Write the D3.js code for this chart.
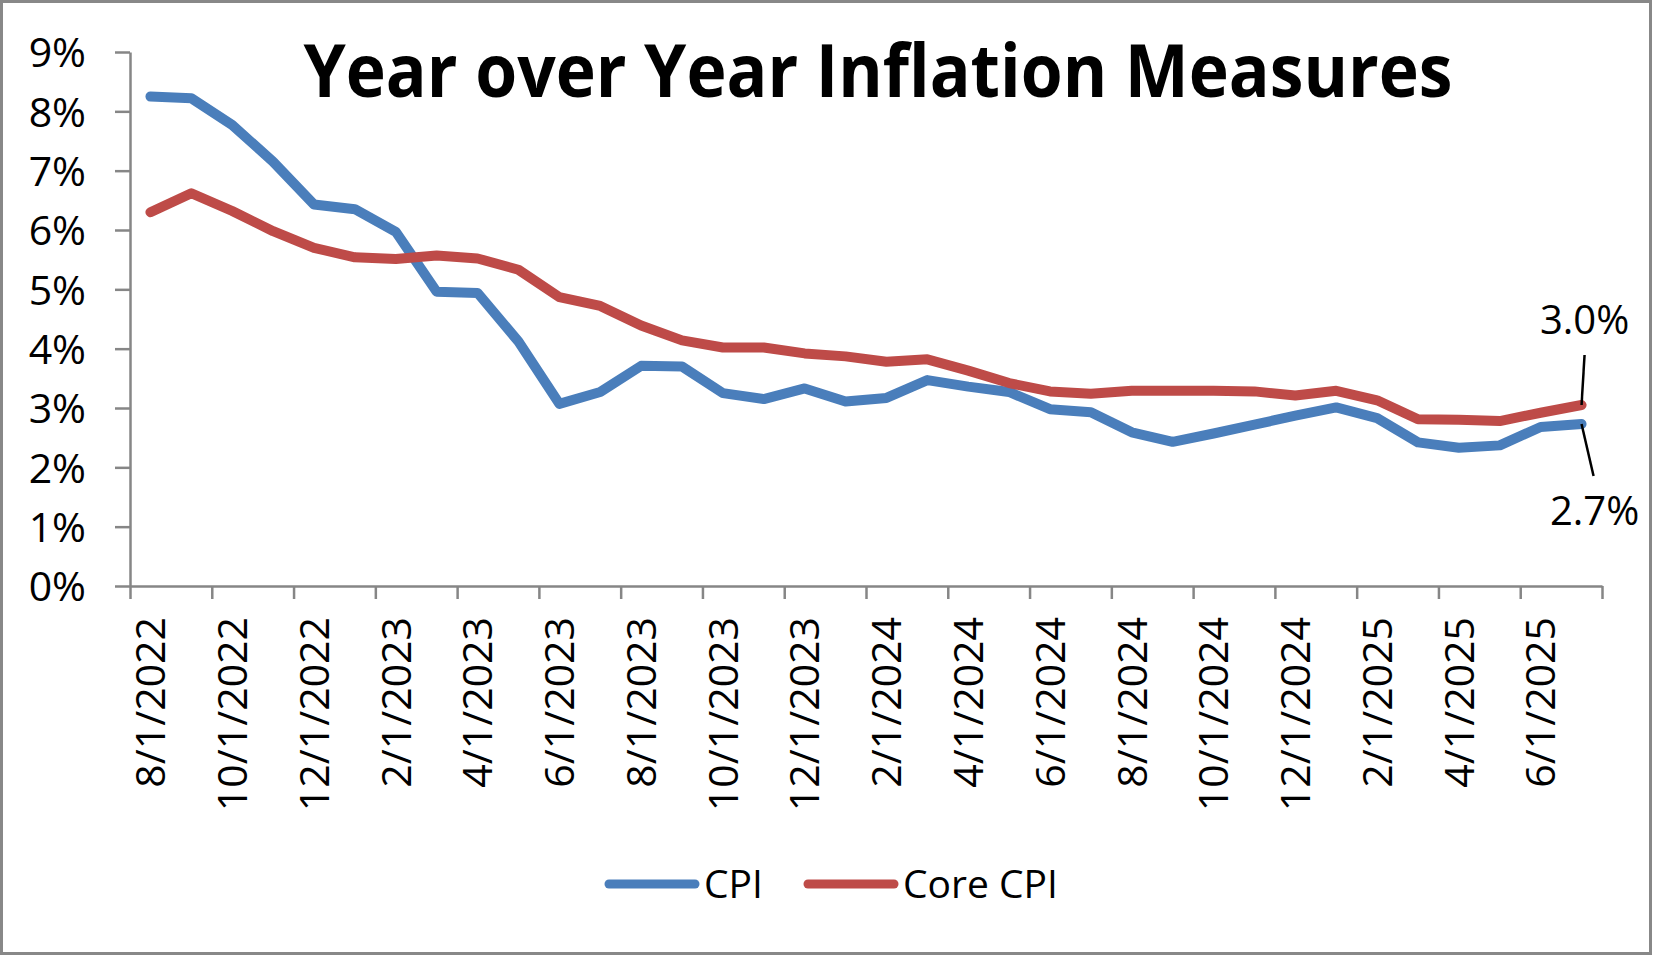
<!DOCTYPE html>
<html>
<head>
<meta charset="utf-8">
<script src="https://cdn.jsdelivr.net/npm/d3@7"></script>
<style>
    body { margin: 0; background: #fff; }
    text { font-family: "Open Sans", "Noto Sans", sans-serif; fill: #000; }
</style>
</head>
<body>
<div id="canvas"></div>
<script>
// datos (% interanual)
var fechas = [
    "8/1/2022", "9/1/2022", "10/1/2022", "11/1/2022", "12/1/2022",
    "1/1/2023", "2/1/2023", "3/1/2023", "4/1/2023", "5/1/2023", "6/1/2023", "7/1/2023",
    "8/1/2023", "9/1/2023", "10/1/2023", "11/1/2023", "12/1/2023",
    "1/1/2024", "2/1/2024", "3/1/2024", "4/1/2024", "5/1/2024", "6/1/2024", "7/1/2024",
    "8/1/2024", "9/1/2024", "10/1/2024", "11/1/2024", "12/1/2024",
    "1/1/2025", "2/1/2025", "3/1/2025", "4/1/2025", "5/1/2025", "6/1/2025", "7/1/2025"
];

var cpi = [8.25, 8.22, 7.77, 7.15, 6.43, 6.35, 5.97, 4.96, 4.94, 4.12, 3.07, 3.27,
    3.71, 3.70, 3.25, 3.15, 3.33, 3.11, 3.17, 3.47, 3.36, 3.27, 2.98, 2.93,
    2.59, 2.43, 2.57, 2.72, 2.87, 3.01, 2.83, 2.42, 2.33, 2.37, 2.68, 2.73];

var coreCpi = [6.30, 6.62, 6.32, 5.98, 5.70, 5.54, 5.51, 5.57, 5.52, 5.33, 4.87, 4.72,
    4.39, 4.14, 4.02, 4.02, 3.92, 3.87, 3.78, 3.82, 3.63, 3.42, 3.28, 3.24,
    3.29, 3.29, 3.29, 3.28, 3.21, 3.29, 3.13, 2.81, 2.80, 2.78, 2.92, 3.05];

var etiquetasX = ["8/1/2022", "10/1/2022", "12/1/2022", "2/1/2023", "4/1/2023", "6/1/2023",
    "8/1/2023", "10/1/2023", "12/1/2023", "2/1/2024", "4/1/2024", "6/1/2024",
    "8/1/2024", "10/1/2024", "12/1/2024", "2/1/2025", "4/1/2025", "6/1/2025"];

var ticksY = [0, 1, 2, 3, 4, 5, 6, 7, 8, 9];

var series = [
    { nombre: "CPI", valores: cpi, color: "#4a7ebb", final: "2.7%" },
    { nombre: "Core CPI", valores: coreCpi, color: "#be4b48", final: "3.0%" }
];

var titulo = "Year over Year Inflation Measures";

var width = 1654;
var height = 955;
var margin = {top: 52, right: 52, bottom: 369, left: 130};
var innerW = 1602 - margin.left;
var innerH = 586 - margin.top;
var gris = "#868686";

var svg = d3.select("#canvas").append("svg")
    .attr("width", width)
    .attr("height", height);

svg.append("rect")
    .attr("x", 1.5).attr("y", 1.5)
    .attr("width", width - 5).attr("height", height - 3)
    .attr("fill", "#fff")
    .attr("stroke", "#888")
    .attr("stroke-width", 3);

var g = svg.append("g")
    .attr("transform", "translate(" + margin.left + "," + margin.top + ")");

var x = d3.scaleBand()
    .domain(fechas)
    .range([0, innerW]);

// escala auxiliar para las marcas entre categorías
var xIdx = d3.scaleLinear()
    .domain([0, fechas.length])
    .range([0, innerW]);

var y = d3.scaleLinear()
    .domain([0, 9])
    .range([innerH, 0]);

// eje Y
var ejeY = g.append("g")
    .call(d3.axisLeft(y)
        .tickValues(ticksY)
        .tickSize(15)
        .tickSizeOuter(0)
        .tickPadding(29)
        .tickFormat(function(d) { return d + "%"; }));

// eje X: marcas cada dos meses
var ejeX = g.append("g")
    .attr("transform", "translate(0," + innerH + ")")
    .call(d3.axisBottom(xIdx)
        .tickValues(d3.range(0, fechas.length + 1, 2))
        .tickSize(13)
        .tickSizeOuter(0)
        .tickFormat(""));

var etiquetas = g.append("g")
    .attr("transform", "translate(0," + innerH + ")")
    .call(d3.axisBottom(x)
        .tickValues(etiquetasX)
        .tickSize(0)
        .tickSizeOuter(0));
etiquetas.select(".domain").remove();
etiquetas.selectAll("text")
    .attr("transform", "rotate(-90)")
    .attr("x", -31)
    .attr("y", 0)
    .attr("dy", "0.36em")
    .attr("text-anchor", "end");

[ejeY, ejeX].forEach(function(e) {
    e.selectAll("path, line")
        .attr("stroke", gris)
        .attr("stroke-width", 2.5);
});
g.selectAll(".tick text")
    .attr("font-size", "41px")
    .attr("fill", "#000")
    .style("font-family", "'Open Sans', sans-serif");
ejeY.selectAll(".tick text").attr("dy", "0.36em");

// líneas
var linea = d3.line()
    .x(function(d, i) { return x(fechas[i]) + x.bandwidth() / 2; })
    .y(function(d) { return y(d); });

g.selectAll(".serie")
    .data(series)
    .enter().append("path")
    .attr("class", "serie")
    .attr("d", function(d) { return linea(d.valores); })
    .attr("fill", "none")
    .attr("stroke", function(d) { return d.color; })
    .attr("stroke-width", 10)
    .attr("stroke-linejoin", "round")
    .attr("stroke-linecap", "round");

// etiquetas del último valor
var ultimo = fechas.length - 1;
var xFin = x(fechas[ultimo]) + x.bandwidth() / 2;

var notas = [
    { serie: series[1], dx1: 3, dy1: -50, tx: 3, ty: -71 },
    { serie: series[0], dx1: 12, dy1: 52, tx: 13, ty: 101 }
];

notas.forEach(function(n) {
    var yv = y(n.serie.valores[ultimo]);
    g.append("line")
        .attr("x1", xFin).attr("y1", yv)
        .attr("x2", xFin + n.dx1).attr("y2", yv + n.dy1)
        .attr("stroke", "#000")
        .attr("stroke-width", 2.5);
    g.append("text")
        .attr("x", xFin + n.tx)
        .attr("y", yv + n.ty)
        .attr("text-anchor", "middle")
        .attr("font-size", "40px")
        .text(n.serie.final);
});

// título
svg.append("text")
    .attr("x", 878)
    .attr("y", 97)
    .attr("text-anchor", "middle")
    .attr("font-size", "74px")
    .attr("font-weight", "bold")
    .attr("textLength", 1149)
    .attr("lengthAdjust", "spacingAndGlyphs")
    .text(titulo);

// leyenda
var leyenda = svg.append("g")
    .attr("transform", "translate(605,884)");

var posLeyenda = [0, 199];

var item = leyenda.selectAll(".item")
    .data(series)
    .enter().append("g")
    .attr("class", "item")
    .attr("transform", function(d, i) { return "translate(" + posLeyenda[i] + ",0)"; });

item.append("line")
    .attr("x1", 4).attr("x2", 90)
    .attr("y1", 0).attr("y2", 0)
    .attr("stroke", function(d) { return d.color; })
    .attr("stroke-width", 9)
    .attr("stroke-linecap", "round");

item.append("text")
    .attr("x", 99)
    .attr("y", 14)
    .attr("font-size", "39px")
    .text(function(d) { return d.nombre; });
</script>
</body>
</html>
